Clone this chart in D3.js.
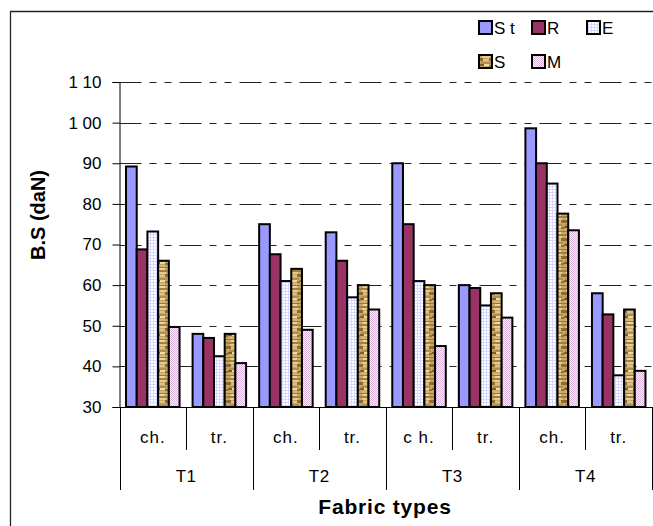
<!DOCTYPE html>
<html>
<head>
<meta charset="utf-8">
<script src="https://cdn.jsdelivr.net/npm/d3@7"></script>
<style>
  body { margin: 0; background: #fff; }
  svg { display: block; font-family: "Liberation Sans", Arial, sans-serif; }
</style>
</head>
<body>
<svg id="chart" width="653" height="526"></svg>
<script>
// ---- data ----
const groups = ["T1", "T2", "T3", "T4"];
const subgroups = ["ch.", "tr."];
const subLabels = ["ch.", "tr.", "ch.", "tr.", "c h.", "tr.", "ch.", "tr."];
const seriesNames = ["St", "R", "E", "S", "M"];
const St = [89.2, 48.0, 75.0, 73.0, 90.0, 60.0, 98.6, 58.0];
const R  = [68.8, 47.0, 67.6, 66.0, 75.0, 59.3, 90.0, 52.8];
const E  = [73.2, 42.5, 61.0, 57.0, 61.0, 55.0, 85.0, 37.8];
const S  = [66.0, 48.0, 64.0, 60.0, 60.0, 58.0, 77.6, 54.0];
const M  = [49.7, 40.8, 49.0, 54.0, 45.0, 52.0, 73.5, 38.9];
const yTicks = [30, 40, 50, 60, 70, 80, 90, 100, 110];
const yTickLabels = ["30", "40", "50", "60", "70", "80", "90", "1 00", "1 10"];

const seriesValues = { St, R, E, S, M };
const catKeys = [];
groups.forEach(g => subgroups.forEach(s => catKeys.push(g + "|" + s)));

const svg = d3.select("#chart");
const defs = svg.append("defs");

// ---- fill patterns ----
const pE = defs.append("pattern").attr("id", "pE").attr("patternUnits", "userSpaceOnUse")
  .attr("width", 3).attr("height", 3);
pE.append("rect").attr("width", 3).attr("height", 3).attr("fill", "#ffffff");
pE.append("rect").attr("x", 0).attr("y", 0).attr("width", 3).attr("height", 1).attr("fill", "#d6d6ff");
pE.append("rect").attr("x", 0).attr("y", 0).attr("width", 1).attr("height", 3).attr("fill", "#d6d6ff");

const pM = defs.append("pattern").attr("id", "pM").attr("patternUnits", "userSpaceOnUse")
  .attr("width", 2).attr("height", 2);
pM.append("rect").attr("width", 2).attr("height", 2).attr("fill", "#fbf3fb");
pM.append("rect").attr("x", 0).attr("y", 0).attr("width", 1).attr("height", 1).attr("fill", "#d9b3d9");
pM.append("rect").attr("x", 1).attr("y", 1).attr("width", 1).attr("height", 1).attr("fill", "#d9b3d9");

const pS = defs.append("pattern").attr("id", "pS").attr("patternUnits", "userSpaceOnUse")
  .attr("width", 12).attr("height", 18);
pS.append("rect").attr("width", 12).attr("height", 18).attr("fill", "#c9a866");
const streaks = [
  [0, 0, 12, 2, "#a3803f"], [2, 2, 8, 2, "#e3cb96"], [0, 4, 3, 3, "#8a6a32"], [9, 4, 3, 3, "#8f6e35"],
  [3, 5, 6, 2, "#dcc18a"], [1, 8, 10, 2, "#b48f4c"], [0, 10, 4, 2, "#7d5f2c"], [4, 10, 5, 2, "#ecd8a8"],
  [9, 11, 3, 2, "#937238"], [2, 13, 7, 2, "#d4b779"], [0, 15, 12, 1, "#9b793c"], [3, 16, 6, 2, "#e9d4a2"]
];
streaks.forEach(s => pS.append("rect").attr("x", s[0]).attr("y", s[1]).attr("width", s[2]).attr("height", s[3]).attr("fill", s[4]));

const fills = { St: "#9999ff", R: "#993366", E: "url(#pE)", S: "url(#pS)", M: "url(#pM)" };

// ---- outer frame ----
svg.append("path").attr("d", "M10.5,526 L10.5,11.5 L653,11.5")
  .attr("fill", "none").attr("stroke", "#222").attr("stroke-width", 1.3);

// ---- scales ----
const x0 = d3.scaleBand().domain(catKeys).range([119.5, 652]).paddingInner(0).paddingOuter(0);
const bw = x0.bandwidth();
const x1 = d3.scaleBand().domain(seriesNames).range([bw * 0.098, bw * 0.902]).padding(0);
const y = d3.scaleLinear().domain([30, 110]).range([407, 82]);
const plotRight = 652;

// ---- gridlines ----
svg.append("g").selectAll("line").data(yTicks.filter(t => t > 30)).join("line")
  .attr("x1", 119.5).attr("x2", plotRight)
  .attr("y1", d => Math.round(y(d)) + 0.5).attr("y2", d => Math.round(y(d)) + 0.5)
  .attr("stroke", "#222").attr("stroke-width", 1)
  .attr("stroke-dasharray", "22 8 7 8 7 8");

// ---- bars ----
const barData = [];
catKeys.forEach((k, i) => seriesNames.forEach(s => barData.push({ k, s, v: seriesValues[s][i] })));
svg.append("g").selectAll("rect").data(barData).join("rect")
  .attr("x", d => x0(d.k) + x1(d.s))
  .attr("width", x1.bandwidth())
  .attr("y", d => y(d.v))
  .attr("height", d => y(30) - y(d.v))
  .attr("fill", d => fills[d.s])
  .attr("stroke", "#000").attr("stroke-width", 2);

// ---- y axis ----
const yAxis = d3.axisLeft(y).tickValues(yTicks).tickSize(7).tickPadding(11)
  .tickFormat((d, i) => yTickLabels[i]);
const gy = svg.append("g").attr("transform", "translate(119.5,0)").call(yAxis);
gy.select(".domain").attr("stroke", "#000").attr("stroke-width", 1);
gy.selectAll(".tick line").attr("stroke", "#000");
gy.selectAll(".tick text").attr("font-size", 17).attr("fill", "#000")
  .attr("font-family", "'Liberation Sans', Arial, sans-serif");

// ---- category axis (two-level) ----
const gx = svg.append("g");
gx.append("line").attr("x1", 119.5).attr("x2", plotRight).attr("y1", 407.5).attr("y2", 407.5)
  .attr("stroke", "#000");
const boundaries = catKeys.map(k => x0(k)).concat([plotRight]);
gx.selectAll("line.div").data(boundaries).join("line").attr("class", "div")
  .attr("x1", d => Math.round(d) + 0.5).attr("x2", d => Math.round(d) + 0.5)
  .attr("y1", 407).attr("y2", (d, i) => (i % 2 === 0 ? 490 : 450))
  .attr("stroke", "#000");
gx.selectAll("text.sub").data(catKeys).join("text").attr("class", "sub")
  .attr("x", d => x0(d) + bw / 2).attr("y", 443)
  .attr("text-anchor", "middle").attr("font-size", 17).attr("letter-spacing", 1)
  .text((d, i) => subLabels[i]);
gx.selectAll("text.grp").data(groups).join("text").attr("class", "grp")
  .attr("x", g => x0(g + "|" + subgroups[0]) + bw).attr("y", 482)
  .attr("text-anchor", "middle").attr("font-size", 17).attr("letter-spacing", 0.5)
  .text(g => g);

// ---- axis titles ----
svg.append("text").attr("x", 385).attr("y", 514).attr("text-anchor", "middle")
  .attr("font-size", 21).attr("font-weight", "bold").attr("letter-spacing", 0.8).text("Fabric types");
svg.append("text").attr("transform", "translate(45,215) rotate(-90)").attr("text-anchor", "middle")
  .attr("font-size", 20).attr("font-weight", "bold").text("B.S (daN)");

// ---- legend ----
const legendPos = { St: [479, 21], R: [532, 21], E: [587, 21], S: [479, 55], M: [532, 55] };
const lg = svg.append("g");
seriesNames.forEach(s => {
  const p = legendPos[s];
  lg.append("rect").attr("x", p[0]).attr("y", p[1]).attr("width", 13).attr("height", 13)
    .attr("fill", fills[s]).attr("stroke", "#000").attr("stroke-width", 2);
  lg.append("text").attr("x", p[0] + 15).attr("y", p[1] + 13).attr("font-size", 17)
    .text(s === "St" ? "S t" : s);
});
</script>
</body>
</html>
